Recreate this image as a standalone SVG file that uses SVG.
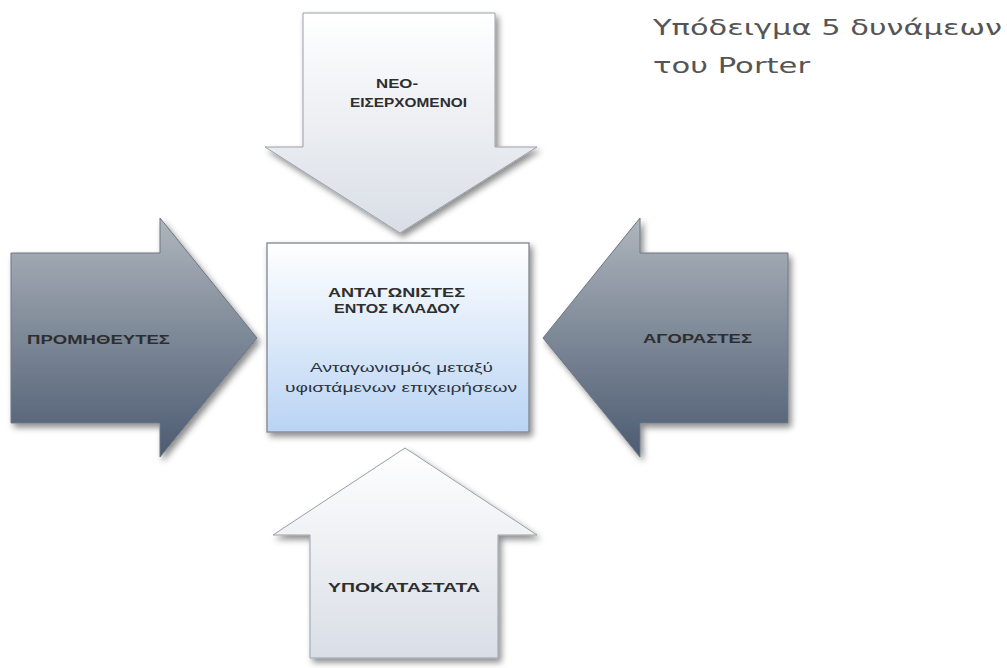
<svg xmlns="http://www.w3.org/2000/svg" width="1007" height="668" viewBox="0 0 1007 668">
<defs>
<linearGradient id="gLight" x1="0" y1="0" x2="0" y2="1">
<stop offset="0" stop-color="#ffffff"/>
<stop offset="1" stop-color="#d9dee6"/>
</linearGradient>
<linearGradient id="gDark" x1="0" y1="0" x2="0" y2="1">
<stop offset="0" stop-color="#aeb5bc"/>
<stop offset="1" stop-color="#4c5b72"/>
</linearGradient>
<linearGradient id="gBox" x1="0" y1="0" x2="0" y2="1">
<stop offset="0" stop-color="#ffffff"/>
<stop offset="1" stop-color="#b9d4f4"/>
</linearGradient>
<filter id="sh" x="-20%" y="-20%" width="140%" height="140%">
<feDropShadow dx="3" dy="4" stdDeviation="3" flood-color="#000" flood-opacity="0.45"/>
</filter>
</defs>
<style>
.light{fill:url(#gLight);stroke:#9aa0a8;stroke-width:1;filter:url(#sh)}
.dark{fill:url(#gDark);stroke:#6c7684;stroke-width:1;filter:url(#sh)}
.box{fill:url(#gBox);stroke:#80868f;stroke-width:1.3;filter:url(#sh)}
.lbl{font-family:"Liberation Sans",Arial,sans-serif;font-weight:bold;font-size:13px;fill:#2e2e2e}
.sub{font-family:"Liberation Sans",Arial,sans-serif;font-size:13px;fill:#2e3440}
.title{font-family:"DejaVu Sans",Verdana,sans-serif;font-size:22px;fill:#555555}
</style>
<rect width="1007" height="668" fill="#ffffff"/>
<g id="connectors"></g>
<g id="top-arrow">
<polygon class="light" points="303,13 495,13 495,147 537,147 400,233 265,147 303,147"/>
<text class="lbl" x="376" y="88" textLength="42" lengthAdjust="spacingAndGlyphs">ΝΕΟ-</text>
<text class="lbl" x="350" y="107" textLength="117" lengthAdjust="spacingAndGlyphs">ΕΙΣΕΡΧΟΜΕΝΟΙ</text>
</g>
<g id="left-arrow">
<polygon class="dark" points="11,253 160,253 160,218 257,338 160,457 160,423 11,423"/>
<text class="lbl" x="27" y="344" textLength="143" lengthAdjust="spacingAndGlyphs">ΠΡΟΜΗΘΕΥΤΕΣ</text>
</g>
<g id="right-arrow">
<polygon class="dark" points="788,253 640,253 640,218 543,338 640,457 640,423 788,423"/>
<text class="lbl" x="643" y="343" textLength="109" lengthAdjust="spacingAndGlyphs">ΑΓΟΡΑΣΤΕΣ</text>
</g>
<g id="center-box">
<rect class="box" x="267" y="243" width="262" height="189"/>
<text class="lbl" x="328" y="297" textLength="137" lengthAdjust="spacingAndGlyphs">ΑΝΤΑΓΩΝΙΣΤΕΣ</text>
<text class="lbl" x="334" y="313" textLength="126" lengthAdjust="spacingAndGlyphs">ΕΝΤΟΣ ΚΛΑΔΟΥ</text>
<text class="sub" x="310" y="372" textLength="183" lengthAdjust="spacingAndGlyphs">Ανταγωνισμός μεταξύ</text>
<text class="sub" x="285" y="392" textLength="232" lengthAdjust="spacingAndGlyphs">υφιστάμενων επιχειρήσεων</text>
</g>
<g id="bottom-arrow">
<polygon class="light" points="405,448 537,535 498,535 498,658 310,658 310,535 273,535"/>
<text class="lbl" x="328" y="592" textLength="152" lengthAdjust="spacingAndGlyphs">ΥΠΟΚΑΤΑΣΤΑΤΑ</text>
</g>
<g id="title">
<text class="title" x="653" y="35" textLength="349" lengthAdjust="spacingAndGlyphs">Υπόδειγμα 5 δυνάμεων</text>
<text class="title" x="653" y="73" textLength="157" lengthAdjust="spacingAndGlyphs">του Porter</text>
</g>
</svg>
